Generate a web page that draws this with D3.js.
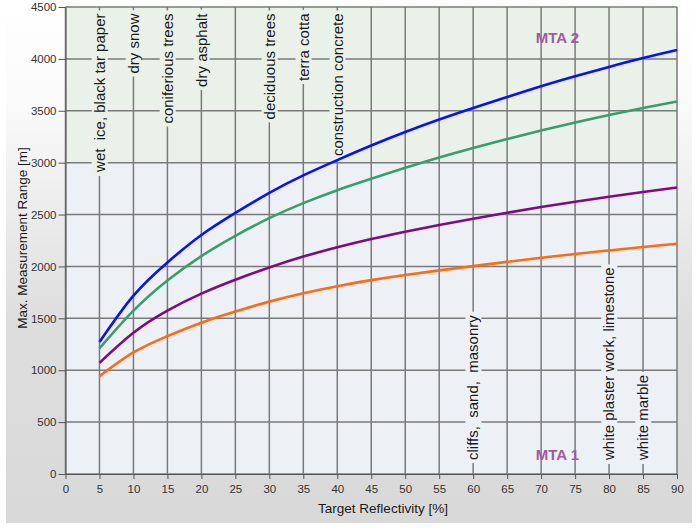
<!DOCTYPE html>
<html>
<head>
<meta charset="utf-8">
<script src="https://cdn.jsdelivr.net/npm/d3@7"></script>
<style>
  body { margin: 0; background: #ffffff; }
  svg { display: block; font-family: "Liberation Sans", Arial, sans-serif; }
  .axis text { font-family: "Liberation Sans", Arial, sans-serif; font-size: 11.5px; fill: #333333; }
  .axis path, .axis line { stroke: #555555; }
  .gridline { stroke: #7a7a7a; stroke-width: 1.5; fill: none; }
  .material { font-size: 15px; fill: #1a1a1a; white-space: pre; }
  .title { font-size: 13.5px; fill: #1a1a1a; }
  .mta { font-size: 15px; font-weight: bold; fill: #a05aa0; }
</style>
</head>
<body>
<div id="chart"></div>
<script>
// reflectivity steps along the x axis [%]
const reflectivity = [5, 10, 15, 20, 25, 30, 35, 40, 45, 50, 55, 60, 65, 70, 75, 80, 85, 90];

// max. measurement range for each curve [m]
const rangeBlue   = [1272, 1719, 2039, 2303, 2516, 2710, 2878, 3025, 3165, 3295, 3415, 3526, 3632, 3736, 3832, 3923, 4008, 4085];
const rangeGreen  = [1210, 1574, 1865, 2100, 2295, 2465, 2610, 2735, 2845, 2950, 3050, 3142, 3228, 3310, 3387, 3460, 3527, 3590];
const rangePurple = [1071, 1361, 1574, 1738, 1872, 1990, 2095, 2185, 2265, 2335, 2400, 2460, 2517, 2572, 2623, 2671, 2717, 2761];
const rangeOrange = [942, 1171, 1329, 1458, 1565, 1661, 1742, 1810, 1868, 1918, 1962, 2003, 2044, 2083, 2120, 2154, 2187, 2219];

const seriesColors = ["#0a10ff", "#3a9d6c", "#800a80", "#ff6a14"];

// materials marked on the grid
const materialNames = ["wet  ice, black tar paper", "dry snow", "coniferious trees", "dry asphalt",
  "deciduous trees", "terra cotta", "construction concrete",
  "cliffs,  sand,  masonry", "white plaster work, limestone", "white marble"];
const materialReflectivity = [5, 10, 15, 20, 30, 35, 40, 60, 80, 85];
const materialSide = ["top", "top", "top", "top", "top", "top", "top", "bottom", "bottom", "bottom"];

// measurement zones
const zoneNames = ["MTA 1", "MTA 2"];
const zoneFrom = [0, 3000];
const zoneTo = [3000, 4500];

// tick labels
const xTicks = d3.range(0, 91, 5);
const yTicks = d3.range(0, 4501, 500);

let width = 697;
let height = 530;
let plotLeft = 65.5, plotRight = 677, plotTop = 7, plotBottom = 474;

let xScale = d3.scaleLinear().domain([0, 90]).range([plotLeft, plotRight]);
let yScale = d3.scaleLinear().domain([0, 4500]).range([plotBottom, plotTop]);

let svg = d3.select("#chart").append("svg")
  .attr("width", width)
  .attr("height", height);

//panel background gradient
let grad = svg.append("defs").append("linearGradient")
  .attr("id", "panelgrad")
  .attr("x1", 0).attr("y1", 0).attr("x2", 0).attr("y2", 1);
grad.append("stop").attr("offset", 0).attr("stop-color", "#ffffff");
grad.append("stop").attr("offset", 0.2).attr("stop-color", "#fafafa");
grad.append("stop").attr("offset", 0.62).attr("stop-color", "#dddddd");
grad.append("stop").attr("offset", 1).attr("stop-color", "#d9d9d9");

svg.append("rect")
  .attr("x", 6).attr("y", 0)
  .attr("width", 686).attr("height", 523)
  .attr("fill", "url(#panelgrad)");

//zone backgrounds
const zoneFill = ["#edf1f6", "#e9f1e9"];
svg.selectAll("rect.zone")
  .data(zoneNames)
  .enter()
  .append("rect")
  .attr("class", "zone")
  .attr("x", xScale(0))
  .attr("y", (d, i) => yScale(zoneTo[i]))
  .attr("width", xScale(90) - xScale(0))
  .attr("height", (d, i) => yScale(zoneFrom[i]) - yScale(zoneTo[i]))
  .attr("fill", (d, i) => zoneFill[i]);

//draw gridlines
svg.selectAll("path.vgrid")
  .data(xTicks)
  .enter()
  .append("path")
  .attr("class", "gridline vgrid")
  .attr("d", d => "M " + xScale(d) + "," + yScale(0) + " L " + xScale(d) + "," + yScale(4500));

svg.selectAll("path.hgrid")
  .data(yTicks)
  .enter()
  .append("path")
  .attr("class", "gridline hgrid")
  .attr("d", d => "M " + xScale(0) + "," + yScale(d) + " L " + xScale(90) + "," + yScale(d));

//material labels, each with a box hiding the grid
let labels = svg.selectAll("g.material")
  .data(materialNames)
  .enter()
  .append("g")
  .attr("class", "material")
  .attr("transform", (d, i) => {
    let y = materialSide[i] == "top" ? yScale(4500) + 6.5 : yScale(0) - 14;
    return `translate(${xScale(materialReflectivity[i])},${y}) rotate(-90)`;
  });

labels.append("text")
  .attr("class", "material")
  .attr("text-anchor", (d, i) => materialSide[i] == "top" ? "end" : "start")
  .attr("dy", "0.35em")
  .text(d => d);

labels.each(function(d, i) {
  let g = d3.select(this);
  let box = g.select("text").node().getBBox();
  g.insert("rect", "text")
    .attr("x", box.x - 3)
    .attr("y", box.y + 1)
    .attr("width", box.width + 6)
    .attr("height", box.height - 1)
    .attr("fill", materialSide[i] == "top" ? zoneFill[1] : zoneFill[0]);
});

//draw range curves
let lineMaker = d3.line()
  .x((d, i) => xScale(reflectivity[i]))
  .y(d => yScale(d))
  .curve(d3.curveNatural);

svg.selectAll("path.curve")
  .data([rangeBlue, rangeGreen, rangePurple, rangeOrange])
  .enter()
  .append("path")
  .attr("class", "curve")
  .attr("d", lineMaker)
  .attr("fill", "none")
  .attr("stroke", (d, i) => seriesColors[i])
  .attr("stroke-width", 2.6);

//zone names
svg.selectAll("text.mta")
  .data(zoneNames)
  .enter()
  .append("text")
  .attr("class", "mta")
  .attr("x", xScale(72.4))
  .attr("y", (d, i) => i == 0 ? yScale(0) - 14 : yScale(4500) + 36)
  .attr("text-anchor", "middle")
  .text(d => d);

//draw x-axis
let xAxis = d3.axisBottom(xScale).tickValues(xTicks)
  .tickSize(5).tickSizeOuter(0).tickPadding(6)
  .tickFormat(d3.format("d"));
svg.append("g")
  .attr("class", "axis")
  .attr("transform", `translate(0,${plotBottom})`)
  .call(xAxis);

//draw y-axis
let yAxis = d3.axisLeft(yScale).tickValues(yTicks)
  .tickSize(7).tickSizeOuter(0).tickPadding(2)
  .tickFormat(d3.format("d"));
svg.append("g")
  .attr("class", "axis")
  .attr("transform", `translate(${plotLeft},0)`)
  .call(yAxis);

//axis titles
svg.append("text")
  .attr("class", "title")
  .attr("x", 383)
  .attr("y", 513)
  .attr("text-anchor", "middle")
  .text("Target Reflectivity [%]");

svg.append("text")
  .attr("class", "title")
  .attr("text-anchor", "middle")
  .attr("transform", "translate(27,238) rotate(-90)")
  .text("Max. Measurement Range [m]");
</script>
</body>
</html>
